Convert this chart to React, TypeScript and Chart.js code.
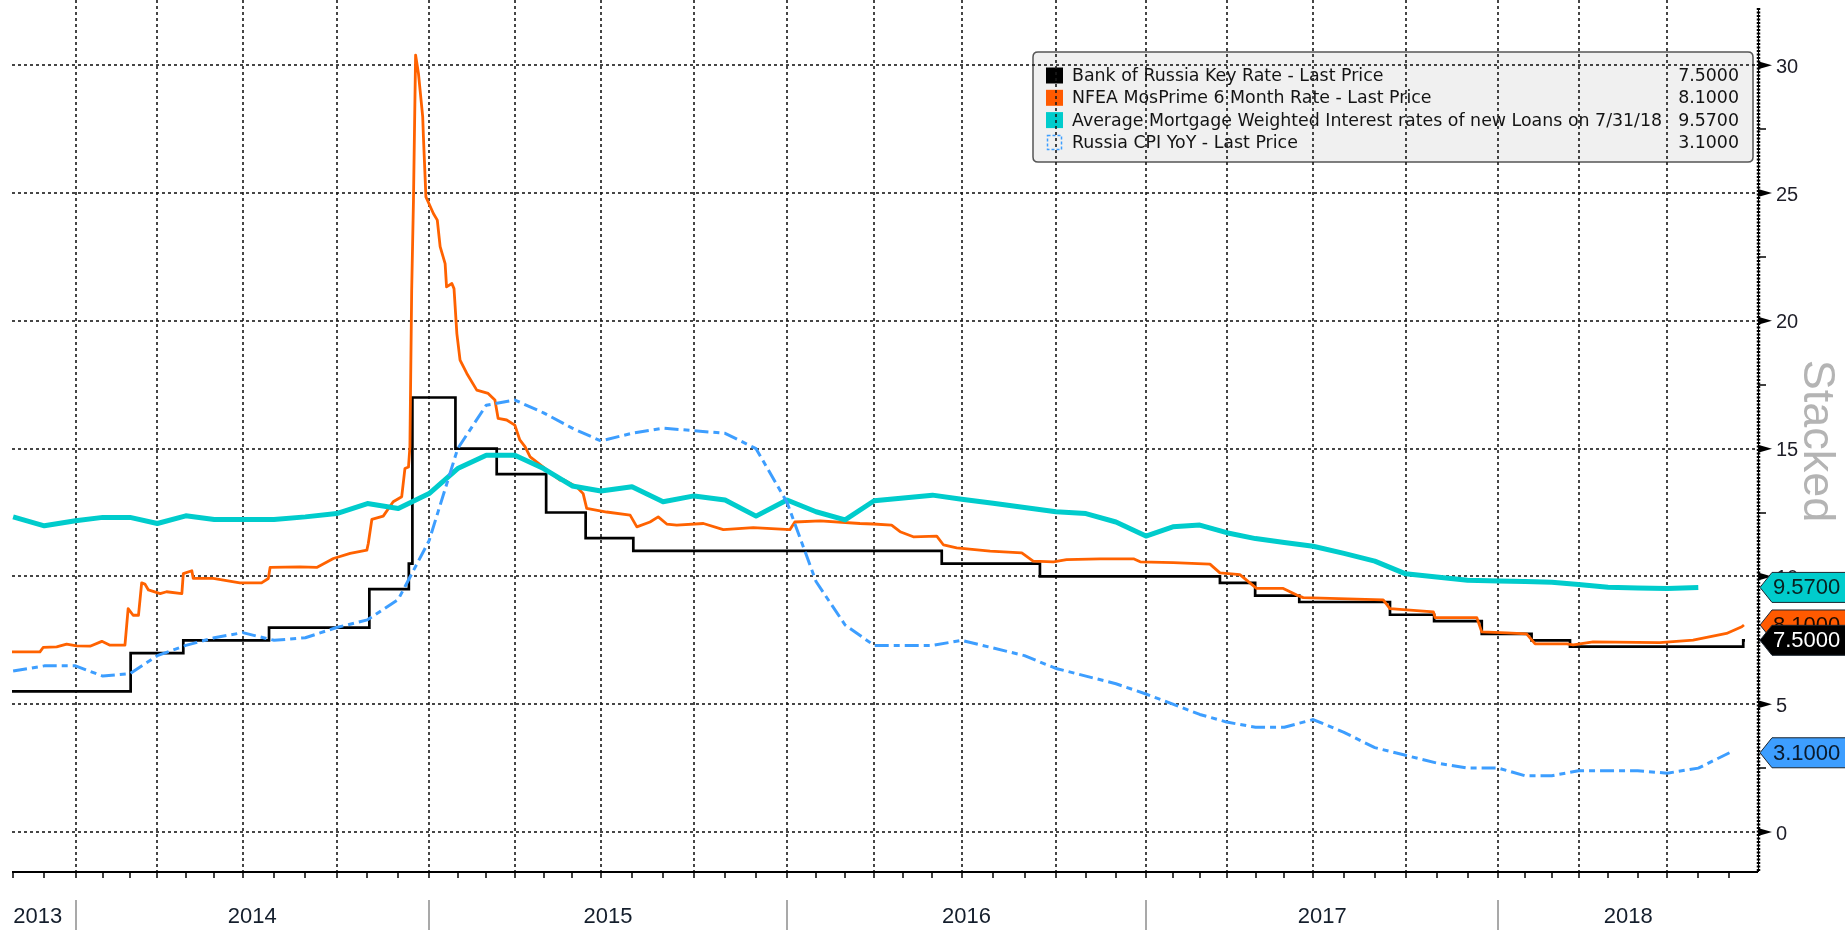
import React, { useEffect, useRef } from 'react';
import { Chart, registerables } from 'chart.js';

Chart.register(...registerables);

const W = 1845;
const H = 930;

// Axis calendar (trading-day based): quarter starts from Oct 2013 to Oct 2018, in axis years
const quarterStarts = [
  2013.737, 2014.0, 2014.23, 2014.47, 2014.734, 2014.994, 2015.235, 2015.477, 2015.739,
  2016.0, 2016.245, 2016.491, 2016.756, 2017.009, 2017.236, 2017.479, 2017.739,
  2018.0, 2018.225, 2018.474, 2018.737,
];
const yearLabels = ['2013', '2014', '2015', '2016', '2017', '2018'];
const yTicks = [0, 5, 10, 15, 20, 25, 30];
const yMinorTicks = [2.5, 7.5, 12.5, 17.5, 22.5, 27.5];

const xMin = 2013.8215;
const xMax = 2018.7295;
const yMin = -1.565;
const yMax = 32.24;

// Bank of Russia Key Rate (step changes)
const keyRate: [number, number][] = [
  [2013.8215, 5.5], [2014.155, 7.0], [2014.303, 7.5], [2014.544, 8.0], [2014.826, 9.5],
  [2014.937, 10.5], [2014.947, 17.0], [2015.068, 15.0], [2015.184, 14.0], [2015.323, 12.5],
  [2015.434, 11.5], [2015.568, 11.0], [2016.435, 10.5], [2016.711, 10.0], [2017.217, 9.75],
  [2017.316, 9.25], [2017.44, 9.0], [2017.695, 8.5], [2017.819, 8.25], [2017.953, 7.75],
  [2018.093, 7.5], [2018.201, 7.25], [2018.688, 7.5], [2018.693, 7.5],
];

// NFEA MosPrime 6 Month Rate
const mosPrime: [number, number][] = [
  [2013.821, 7.05], [2013.9, 7.05], [2013.909, 7.22], [2013.947, 7.24], [2013.975, 7.35],
  [2014.003, 7.28], [2014.041, 7.27], [2014.074, 7.46], [2014.097, 7.31], [2014.139, 7.31],
  [2014.148, 8.74], [2014.162, 8.48], [2014.177, 8.48], [2014.186, 9.75], [2014.195, 9.7],
  [2014.205, 9.47], [2014.238, 9.33], [2014.256, 9.4], [2014.299, 9.33], [2014.303, 10.11],
  [2014.327, 10.22], [2014.331, 9.92], [2014.387, 9.92], [2014.462, 9.75], [2014.523, 9.75],
  [2014.542, 9.92], [2014.547, 10.35], [2014.631, 10.37], [2014.678, 10.35], [2014.725, 10.7],
  [2014.772, 10.9], [2014.819, 11.03], [2014.823, 11.29], [2014.833, 12.23], [2014.865, 12.36],
  [2014.893, 12.92], [2014.917, 13.12], [2014.926, 14.22], [2014.936, 14.28], [2014.94, 15.07],
  [2014.945, 21.2], [2014.95, 24.7], [2014.956, 30.4], [2014.964, 29.68], [2014.976, 27.98],
  [2014.978, 27.2], [2014.985, 24.85], [2015.006, 24.2], [2015.017, 23.94], [2015.025, 22.9],
  [2015.039, 22.24], [2015.043, 21.33], [2015.058, 21.46], [2015.064, 21.26], [2015.072, 19.5],
  [2015.081, 18.46], [2015.1, 17.94], [2015.128, 17.29], [2015.16, 17.16], [2015.179, 16.9],
  [2015.188, 16.18], [2015.212, 16.12], [2015.235, 15.92], [2015.249, 15.34], [2015.264, 15.07],
  [2015.278, 14.68], [2015.315, 14.28], [2015.325, 14.16], [2015.362, 13.77], [2015.371, 13.79],
  [2015.409, 13.5], [2015.427, 13.24], [2015.437, 12.66], [2015.493, 12.52], [2015.559, 12.4],
  [2015.578, 11.94], [2015.615, 12.13], [2015.638, 12.33], [2015.662, 12.05], [2015.69, 12.01],
  [2015.765, 12.07], [2015.821, 11.83], [2015.905, 11.91], [2016.008, 11.83], [2016.022, 12.13],
  [2016.093, 12.17], [2016.205, 12.07], [2016.243, 12.05], [2016.294, 12.01], [2016.318, 11.75],
  [2016.355, 11.55], [2016.421, 11.58], [2016.44, 11.23], [2016.477, 11.12], [2016.571, 10.99],
  [2016.66, 10.92], [2016.692, 10.6], [2016.749, 10.57], [2016.786, 10.66], [2016.88, 10.69],
  [2016.974, 10.69], [2016.993, 10.57], [2017.086, 10.54], [2017.189, 10.48], [2017.217, 10.14],
  [2017.273, 10.07], [2017.32, 9.53], [2017.395, 9.53], [2017.433, 9.27], [2017.451, 9.17],
  [2017.676, 9.08], [2017.695, 8.74], [2017.817, 8.61], [2017.822, 8.39], [2017.939, 8.39],
  [2017.953, 7.83], [2018.023, 7.79], [2018.079, 7.75], [2018.103, 7.36], [2018.192, 7.36],
  [2018.21, 7.32], [2018.266, 7.44], [2018.453, 7.41], [2018.547, 7.51], [2018.641, 7.77],
  [2018.684, 8.03], [2018.69, 8.1],
];

// Average mortgage weighted interest rate, monthly, Oct 2013 .. Jul 2018
const mortgageMonthly = [
  12.33, 11.98, 12.18,
  12.31, 12.31, 12.07, 12.37, 12.23, 12.23, 12.23, 12.33, 12.46, 12.85, 12.66, 13.24,
  14.22, 14.74, 14.74, 14.22, 13.54, 13.34, 13.51, 12.92, 13.15, 12.99, 12.36, 12.99,
  12.53, 12.21, 12.96, 13.07, 13.18, 13.02, 12.86, 12.7, 12.53, 12.46, 12.13, 11.58,
  11.94, 12.01, 11.71, 11.48, 11.33, 11.18, 10.9, 10.6, 10.1, 9.98, 9.85, 9.82,
  9.8, 9.77, 9.68, 9.58, 9.55, 9.53, 9.57,
];

// Russia CPI YoY, monthly, Oct 2013 .. Aug 2018
const cpiMonthly = [
  6.3, 6.5, 6.5,
  6.1, 6.2, 6.9, 7.3, 7.6, 7.8, 7.5, 7.6, 8.0, 8.3, 9.1, 11.4,
  15.0, 16.7, 16.9, 16.4, 15.8, 15.3, 15.6, 15.8, 15.7, 15.6, 15.0, 12.9,
  9.8, 8.1, 7.3, 7.3, 7.3, 7.5, 7.2, 6.9, 6.4, 6.1, 5.8, 5.4,
  5.0, 4.6, 4.3, 4.1, 4.1, 4.4, 3.9, 3.3, 3.0, 2.7, 2.5, 2.5,
  2.2, 2.2, 2.4, 2.4, 2.4, 2.3, 2.5, 3.1,
];

const seriesNames = [
  'Bank of Russia Key Rate - Last Price',
  'NFEA MosPrime 6 Month Rate - Last Price',
  'Average Mortgage Weighted Interest rates of new Loans on 7/31/18',
  'Russia CPI YoY - Last Price',
];

const C_BLACK = '#000000';
const C_ORANGE = '#ff6200';
const C_CYAN = '#00cccc';
const C_BLUE = '#3d9eff';

// month index g counted from Oct 2013 -> axis position of month start
function monthStart(g: number): number {
  const j = Math.floor(g / 3);
  const r = g % 3;
  const a = quarterStarts[j];
  const b = quarterStarts[j + 1] !== undefined ? quarterStarts[j + 1] : a + 0.263;
  return a + ((b - a) * r) / 3;
}

const monthlyPoints = (vals: number[]) => vals.map((v, g) => ({ x: monthStart(g + 1), y: v }));
const pairPoints = (vals: [number, number][]) => vals.map(([x, y]) => ({ x, y }));

const last = <T,>(a: T[]) => a[a.length - 1];

const deco = {
  id: 'deco',
  beforeDraw(chart: any) {
    const ctx = chart.ctx as CanvasRenderingContext2D;
    ctx.save();
    ctx.fillStyle = '#ffffff';
    ctx.fillRect(0, 0, W, H);
    ctx.restore();
  },
  beforeDatasetsDraw(chart: any) {
    const ctx = chart.ctx as CanvasRenderingContext2D;
    const xs = chart.scales.x;
    const ys = chart.scales.y;
    const area = chart.chartArea;

    // legend box
    ctx.save();
    const lx = 1033, ly = 52, lw = 720, lh = 110, rr = 5;
    ctx.beginPath();
    ctx.moveTo(lx + rr, ly);
    ctx.lineTo(lx + lw - rr, ly);
    ctx.quadraticCurveTo(lx + lw, ly, lx + lw, ly + rr);
    ctx.lineTo(lx + lw, ly + lh - rr);
    ctx.quadraticCurveTo(lx + lw, ly + lh, lx + lw - rr, ly + lh);
    ctx.lineTo(lx + rr, ly + lh);
    ctx.quadraticCurveTo(lx, ly + lh, lx, ly + lh - rr);
    ctx.lineTo(lx, ly + rr);
    ctx.quadraticCurveTo(lx, ly, lx + rr, ly);
    ctx.closePath();
    ctx.fillStyle = '#f0f0f0';
    ctx.fill();
    ctx.strokeStyle = '#555555';
    ctx.lineWidth = 1.5;
    ctx.stroke();

    const lastVals = [last(keyRate)[1], last(mosPrime)[1], last(mortgageMonthly), last(cpiMonthly)];
    const swatch = [C_BLACK, '#ff5a00', C_CYAN, C_BLUE];
    ctx.font = '17.4px "DejaVu Sans"';
    ctx.textBaseline = 'middle';
    for (let i = 0; i < 4; i++) {
      const ry = 75.5 + i * 22.3;
      if (i < 3) {
        ctx.fillStyle = swatch[i];
        ctx.fillRect(1046, ry - 8, 17, 16);
      } else {
        ctx.save();
        ctx.strokeStyle = swatch[i];
        ctx.lineWidth = 1.5;
        ctx.setLineDash([3, 2]);
        ctx.strokeRect(1047.5, ry - 7, 14, 14);
        ctx.restore();
      }
      ctx.fillStyle = '#141414';
      ctx.textAlign = 'left';
      ctx.fillText(seriesNames[i], 1072, ry + 1);
      ctx.textAlign = 'right';
      ctx.fillText(lastVals[i].toFixed(4), 1739, ry + 1);
    }
    ctx.restore();

    // grid lines
    ctx.save();
    ctx.strokeStyle = '#1a1a1a';
    ctx.lineWidth = 1.6;
    ctx.setLineDash([3, 3]);
    for (const v of yTicks) {
      const y = Math.round(ys.getPixelForValue(v));
      ctx.beginPath();
      ctx.moveTo(area.left, y);
      ctx.lineTo(area.right, y);
      ctx.stroke();
    }
    for (let j = 1; j < quarterStarts.length; j++) {
      const q = quarterStarts[j];
      if (q <= xMin || q >= xMax) continue;
      const x = Math.round(xs.getPixelForValue(q));
      ctx.beginPath();
      ctx.moveTo(x, 0);
      ctx.lineTo(x, area.bottom);
      ctx.stroke();
    }
    ctx.restore();

    // bottom axis
    ctx.save();
    ctx.strokeStyle = '#000';
    ctx.lineWidth = 2;
    ctx.beginPath();
    ctx.moveTo(area.left, area.bottom);
    ctx.lineTo(area.right, area.bottom);
    ctx.stroke();
    ctx.lineWidth = 1.5;
    for (let g = 1; g <= 60; g++) {
      const m = monthStart(g);
      if (m > xMax + 0.001) continue;
      const x = Math.round(xs.getPixelForValue(Math.min(m, xMax)));
      ctx.beginPath();
      ctx.moveTo(x, area.bottom);
      ctx.lineTo(x, area.bottom + 6);
      ctx.stroke();
    }
    ctx.restore();

    // right axis
    ctx.save();
    const ax = area.right;
    ctx.strokeStyle = '#000';
    ctx.lineWidth = 1;
    ctx.beginPath();
    ctx.moveTo(ax + 0.5, area.top);
    ctx.lineTo(ax + 0.5, area.bottom);
    ctx.stroke();
    ctx.lineWidth = 3.5;
    ctx.setLineDash([2, 1.5]);
    ctx.beginPath();
    ctx.moveTo(ax + 0.5, area.top);
    ctx.lineTo(ax + 0.5, area.bottom);
    ctx.stroke();
    ctx.setLineDash([]);
    ctx.lineWidth = 1.5;
    for (const v of yMinorTicks) {
      const y = Math.round(ys.getPixelForValue(v));
      ctx.beginPath();
      ctx.moveTo(ax, y);
      ctx.lineTo(ax + 8, y);
      ctx.stroke();
    }
    ctx.fillStyle = '#000';
    for (const v of yTicks) {
      const y = ys.getPixelForValue(v);
      ctx.beginPath();
      ctx.moveTo(ax, y - 4);
      ctx.lineTo(ax + 14, y);
      ctx.lineTo(ax, y + 4);
      ctx.closePath();
      ctx.fill();
    }
    ctx.restore();
  },
  afterDatasetsDraw(chart: any) {
    const ctx = chart.ctx as CanvasRenderingContext2D;
    const xs = chart.scales.x;
    const ys = chart.scales.y;
    const area = chart.chartArea;
    const ax = area.right;

    // y tick labels
    ctx.save();
    ctx.font = '20px "Liberation Sans"';
    ctx.fillStyle = '#1e1e28';
    ctx.textAlign = 'left';
    ctx.textBaseline = 'middle';
    for (const v of yTicks) {
      ctx.fillText(String(v), ax + 18, ys.getPixelForValue(v) + 2);
    }
    ctx.restore();

    // "Stacked"
    ctx.save();
    ctx.translate(1816, 441);
    ctx.rotate(Math.PI / 2);
    ctx.font = '45px "Liberation Sans"';
    ctx.fillStyle = '#b4b4b4';
    ctx.textAlign = 'center';
    ctx.textBaseline = 'middle';
    ctx.fillText('Stacked', 0, 0);
    ctx.restore();

    // value badges
    const badge = (value: number, fill: string, textColor: string) => {
      const y = ys.getPixelForValue(value);
      const x0 = ax + 2;
      ctx.beginPath();
      ctx.moveTo(x0, y);
      ctx.lineTo(x0 + 12, y - 15);
      ctx.lineTo(W + 5, y - 15);
      ctx.lineTo(W + 5, y + 15);
      ctx.lineTo(x0 + 12, y + 15);
      ctx.closePath();
      ctx.fillStyle = fill;
      ctx.fill();
      ctx.strokeStyle = '#1c2630';
      ctx.lineWidth = 1;
      ctx.stroke();
      ctx.fillStyle = textColor;
      ctx.font = '22px "Liberation Sans"';
      ctx.textAlign = 'left';
      ctx.textBaseline = 'middle';
      ctx.fillText(value.toFixed(4), x0 + 13, y + 1);
    };
    ctx.save();
    badge(last(mortgageMonthly), C_CYAN, '#082020');
    badge(last(mosPrime)[1], '#ff5a00', '#1a0a00');
    badge(last(keyRate)[1], '#000000', '#ffffff');
    badge(last(cpiMonthly), C_BLUE, '#0a1a2c');
    ctx.restore();

    // year separators and labels
    ctx.save();
    const yearBounds = [quarterStarts[1], quarterStarts[5], quarterStarts[9], quarterStarts[13], quarterStarts[17]];
    const bpx = yearBounds.map((b) => xs.getPixelForValue(b));
    ctx.strokeStyle = '#8c8c8c';
    ctx.lineWidth = 1.5;
    for (const x of bpx) {
      ctx.beginPath();
      ctx.moveTo(Math.round(x), 900);
      ctx.lineTo(Math.round(x), H);
      ctx.stroke();
    }
    const edges = [0, ...bpx, area.right];
    ctx.font = '22px "Liberation Sans"';
    ctx.fillStyle = '#141e2c';
    ctx.textAlign = 'center';
    ctx.textBaseline = 'middle';
    for (let i = 0; i < yearLabels.length; i++) {
      const cx = (edges[i] + edges[i + 1]) / 2;
      ctx.fillText(yearLabels[i], cx, 917);
    }
    ctx.restore();
  },
};

export default function App() {
  const ref = useRef<HTMLCanvasElement>(null);
  useEffect(() => {
    const canvas = ref.current;
    if (!canvas) return;
    const chart = new Chart(canvas, {
      type: 'line',
      data: {
        datasets: [
          {
            label: seriesNames[0],
            data: pairPoints(keyRate),
            borderColor: C_BLACK,
            borderWidth: 2.7,
            stepped: true,
            pointRadius: 0,
            order: 4,
          },
          {
            label: seriesNames[1],
            data: pairPoints(mosPrime),
            borderColor: C_ORANGE,
            borderWidth: 2.8,
            pointRadius: 0,
            borderJoinStyle: 'round',
            order: 3,
          },
          {
            label: seriesNames[2],
            data: monthlyPoints(mortgageMonthly),
            borderColor: C_CYAN,
            borderWidth: 5,
            pointRadius: 0,
            borderJoinStyle: 'round',
            order: 2,
          },
          {
            label: seriesNames[3],
            data: monthlyPoints(cpiMonthly),
            borderColor: C_BLUE,
            borderWidth: 3,
            borderDash: [14, 5, 6, 5],
            pointRadius: 0,
            borderJoinStyle: 'round',
            order: 1,
          },
        ] as any,
      },
      options: {
        animation: false,
        responsive: false,
        devicePixelRatio: 1,
        events: [],
        layout: { padding: { left: 12, top: 8, right: W - 1758, bottom: H - 872 } },
        plugins: { legend: { display: false }, tooltip: { enabled: false } },
        scales: {
          x: { type: 'linear', display: false, min: xMin, max: xMax },
          y: { type: 'linear', display: false, min: yMin, max: yMax },
        },
      },
      plugins: [deco as any],
    });
    return () => chart.destroy();
  }, []);
  return (
    <div style={{ position: 'absolute', left: 0, top: 0, width: W, height: H, background: '#fff' }}>
      <canvas ref={ref} width={W} height={H} style={{ display: 'block', width: W, height: H }} />
    </div>
  );
}
